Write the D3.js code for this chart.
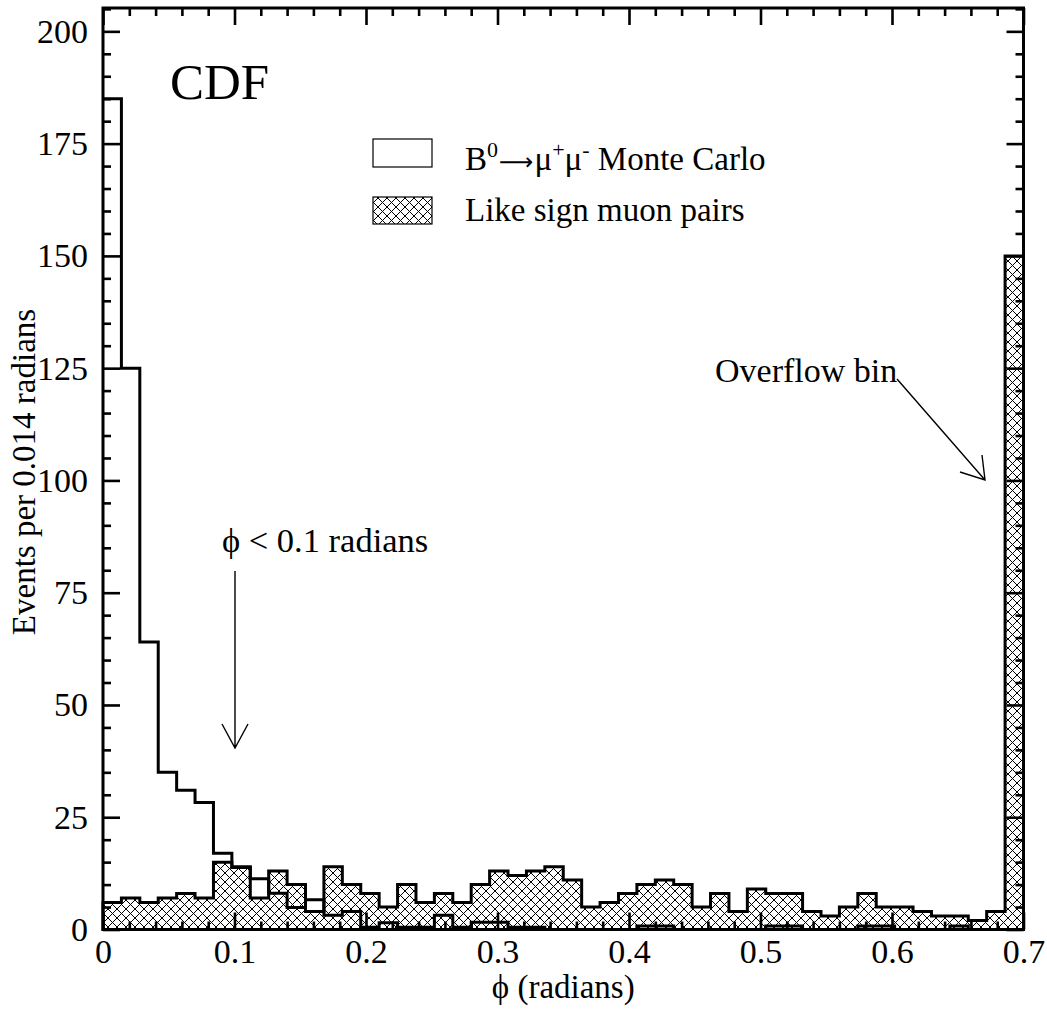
<!DOCTYPE html>
<html>
<head>
<meta charset="utf-8">
<script src="https://cdn.jsdelivr.net/npm/d3@7"></script>
<style>
  html, body { margin: 0; padding: 0; background: #fff; }
  svg { display: block; }
  text { font-family: "Liberation Serif", "Times New Roman", serif; fill: #000; }
</style>
</head>
<body>
<svg id="chart" width="1047" height="1013"></svg>
<script>
// ---- data ----
const binWidth = 0.014;
const monteCarlo = [185,125,64,35,31,28.3,17,13.8,11.3,8.1,4.9,6.6,3.2,4.0,
  0.5,1.5,0.5,0.5,3.2,0.5,1.6,1.6,0.5,0.5,
  0,0,0,0,0,0.8,0.8,0,0,0,0,0,0.8,0.8,0,0,0,0.8,0.8,0,0,0,0.8,0,0,0];
const likeSign = [6,7,6,7,8,7,15,14,7,13,10,4,14,10,8,5,10,6,8,6,
  10,13,12,13,14,11,5,6,8,10,11,10,5,8,4,9,8,8,4,3,
  5,8,5,5,4,3,3,2,4,150];
const xMajorTicks = [0,0.1,0.2,0.3,0.4,0.5,0.6,0.7];
const xTickLabels = ["0","0.1","0.2","0.3","0.4","0.5","0.6","0.7"];
const xMinorTicks = [0.02,0.04,0.06,0.08,0.12,0.14,0.16,0.18,0.22,0.24,0.26,0.28,0.32,0.34,0.36,0.38,0.42,0.44,0.46,0.48,0.52,0.54,0.56,0.58,0.62,0.64,0.66,0.68];
const yMajorTicks = [0,25,50,75,100,125,150,175,200];
const yMinorTicks = [5,10,15,20,30,35,40,45,55,60,65,70,80,85,90,95,105,110,115,120,130,135,140,145,155,160,165,170,180,185,190,195,205];
const legendLabels = ["Monte Carlo", "Like sign muon pairs"];

// ---- layout ----
const L = 103, R = 1023.5, T = 8, B = 929.5;
const svg = d3.select("#chart");
svg.append("rect").attr("width",1047).attr("height",1013).attr("fill","#fff");

const x = d3.scaleLinear().domain([0, 0.7]).range([L, R]);
const y = d3.scaleLinear().domain([0, 205.2]).range([B, T]);

// hatch pattern
const defs = svg.append("defs");
const P = 9;
const pat = defs.append("pattern").attr("id","hatch").attr("patternUnits","userSpaceOnUse")
  .attr("width",P).attr("height",P);
pat.append("rect").attr("width",P).attr("height",P).attr("fill","#fff");
pat.append("path").attr("d",`M-1,-1 L${P+1},${P+1} M-1,${P+1} L${P+1},-1`)
  .attr("stroke","#000").attr("stroke-width",1).attr("fill","none")
  .attr("shape-rendering","crispEdges");

const toPts = arr => {
  const pts = arr.map((v,i) => ({e: i*binWidth, v}));
  pts.push({e: arr.length*binWidth, v: arr[arr.length-1]});
  return pts;
};

// like-sign hatched histogram
const area = d3.area().curve(d3.curveStepAfter)
  .x(d => x(d.e)).y0(y(0)).y1(d => y(d.v));
svg.append("path").datum(toPts(likeSign)).attr("d", area)
  .attr("fill","url(#hatch)").attr("stroke","#000").attr("stroke-width",3)
  .attr("stroke-linejoin","miter");

// Monte Carlo open histogram
const line = d3.line().curve(d3.curveStepAfter).x(d => x(d.e)).y(d => y(d.v));
svg.append("path").datum(toPts(monteCarlo)).attr("d", line)
  .attr("fill","none").attr("stroke","#000").attr("stroke-width",3);

// ---- axes (ticks inward on all 4 sides) ----
const fontSize = 34;
function styleAxis(g){ g.select(".domain").remove(); g.selectAll(".tick line").attr("stroke","#000").attr("stroke-width",2.6); }

svg.append("g").attr("transform",`translate(0,${B})`)
  .call(d3.axisBottom(x).tickValues(xMajorTicks).tickSize(-17).tickPadding(9)
    .tickFormat((d,i) => xTickLabels[i]))
  .call(styleAxis)
  .call(g => g.selectAll("text").attr("font-size",fontSize).attr("fill","#000"));
svg.append("g").attr("transform",`translate(0,${B})`)
  .call(d3.axisBottom(x).tickValues(xMinorTicks).tickSize(-8).tickFormat(""))
  .call(styleAxis);
svg.append("g").attr("transform",`translate(0,${T})`)
  .call(d3.axisTop(x).tickValues(xMajorTicks).tickSize(-17).tickFormat(""))
  .call(styleAxis);
svg.append("g").attr("transform",`translate(0,${T})`)
  .call(d3.axisTop(x).tickValues(xMinorTicks).tickSize(-8).tickFormat(""))
  .call(styleAxis);

svg.append("g").attr("transform",`translate(${L},0)`)
  .call(d3.axisLeft(y).tickValues(yMajorTicks).tickSize(-17).tickPadding(15).tickFormat(d3.format("d")))
  .call(styleAxis)
  .call(g => g.selectAll("text").attr("font-size",fontSize).attr("fill","#000"));
svg.append("g").attr("transform",`translate(${L},0)`)
  .call(d3.axisLeft(y).tickValues(yMinorTicks).tickSize(-8).tickFormat(""))
  .call(styleAxis);
svg.append("g").attr("transform",`translate(${R},0)`)
  .call(d3.axisRight(y).tickValues(yMajorTicks).tickSize(-17).tickFormat(""))
  .call(styleAxis);
svg.append("g").attr("transform",`translate(${R},0)`)
  .call(d3.axisRight(y).tickValues(yMinorTicks).tickSize(-8).tickFormat(""))
  .call(styleAxis);

// frame
svg.append("rect").attr("x",L).attr("y",T).attr("width",R-L).attr("height",B-T)
  .attr("fill","none").attr("stroke","#000").attr("stroke-width",3);

// axis titles
svg.append("text").attr("x", x(0.35)).attr("y", 998).attr("text-anchor","middle")
  .attr("font-size",33).text("\u03D5 (radians)");
svg.append("text").attr("transform","translate(35,472) rotate(-90)").attr("text-anchor","middle")
  .attr("font-size",33).text("Events per 0.014 radians");

// CDF
svg.append("text").attr("x",170).attr("y",99).attr("font-size",51).text("CDF");

// legend
svg.append("rect").attr("x",373).attr("y",139).attr("width",59).attr("height",28)
  .attr("fill","#fff").attr("stroke","#000").attr("stroke-width",1.2);
svg.append("rect").attr("x",373).attr("y",197).attr("width",59).attr("height",27)
  .attr("fill","url(#hatch)").attr("stroke","#000").attr("stroke-width",1.2);
const t1 = svg.append("text").attr("x",465).attr("y",170).attr("font-size",33);
t1.append("tspan").text("B");
t1.append("tspan").attr("dy",-13).attr("font-size",22).text("0");
t1.append("tspan").attr("dy",13).attr("dx",1).attr("font-family","DejaVu Sans").attr("font-size",24).text("\u27F6");
t1.append("tspan").attr("dx",1).text("\u03BC");
t1.append("tspan").attr("dy",-13).attr("font-size",22).text("+");
t1.append("tspan").attr("dy",13).text("\u03BC");
t1.append("tspan").attr("dy",-13).attr("font-size",22).text("-");
t1.append("tspan").attr("dy",13).text(" " + legendLabels[0]);
svg.append("text").attr("x",465).attr("y",221).attr("font-size",33).text(legendLabels[1]);

// annotations
svg.append("text").attr("x",222).attr("y",552).attr("font-size",34.5).text("\u03D5 < 0.1 radians");
svg.append("path").attr("d","M235,571 L235,748 M222,724 L235,748 L248,724")
  .attr("fill","none").attr("stroke","#000").attr("stroke-width",1.4);
svg.append("text").attr("x",715).attr("y",382).attr("font-size",34).text("Overflow bin");
svg.append("path").attr("d","M897,379 L985,480 M960,472 L985,480 L982,455")
  .attr("fill","none").attr("stroke","#000").attr("stroke-width",1.4);
</script>
</body>
</html>
